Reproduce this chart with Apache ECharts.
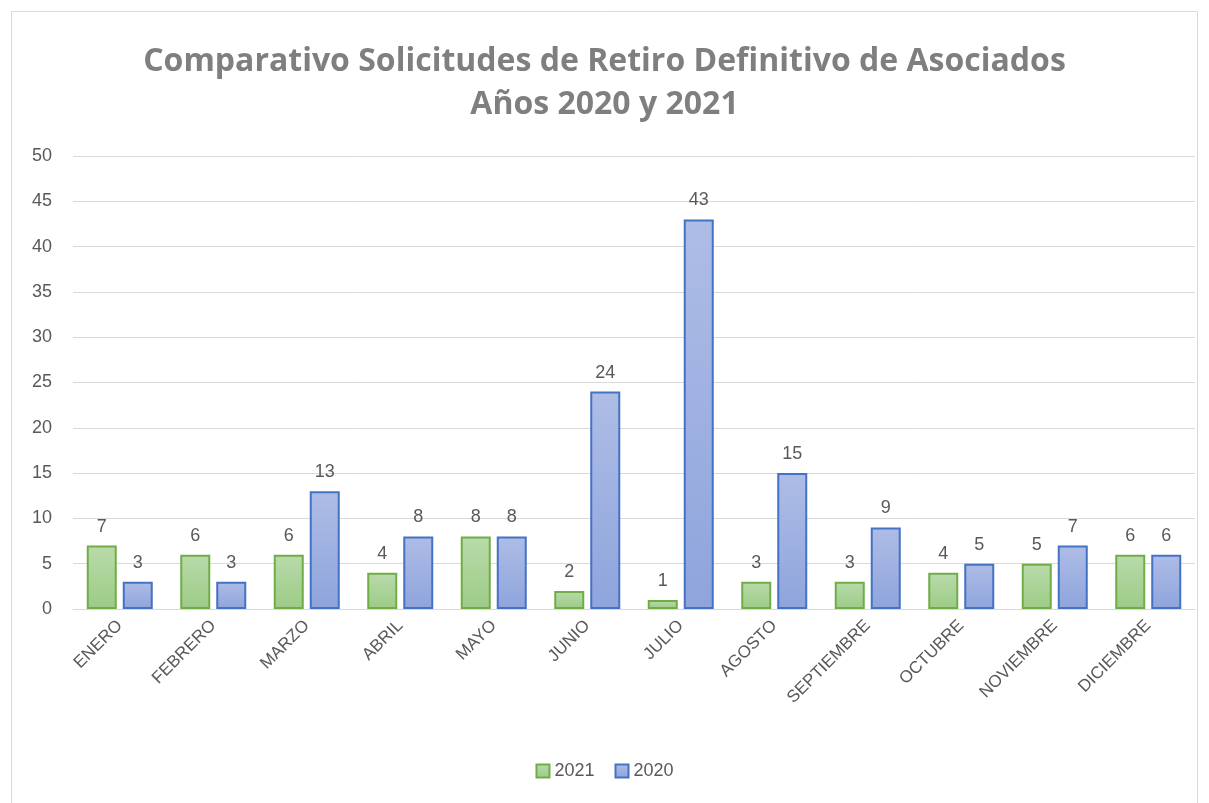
<!DOCTYPE html>
<html><head><meta charset="utf-8">
<script src="https://cdn.jsdelivr.net/npm/echarts@6/dist/echarts.min.js"></script>
<style>html,body{margin:0;padding:0;background:#fff}#c{width:1209px;height:803px}</style>
</head><body><div id="c"></div>
<script>
const categories = ['ENERO','FEBRERO','MARZO','ABRIL','MAYO','JUNIO','JULIO','AGOSTO','SEPTIEMBRE','OCTUBRE','NOVIEMBRE','DICIEMBRE'];
const values2021 = [7,6,6,4,8,2,1,3,3,4,5,6];
const values2020 = [3,3,13,8,8,24,43,15,9,5,7,6];
const yTicks = {min:0, max:50, interval:5};
const titleLines = ['Comparativo Solicitudes de Retiro Definitivo de Asociados', 'Años 2020 y 2021'];

const chart = echarts.init(document.getElementById('c'));
const grad = (t,b) => new echarts.graphic.LinearGradient(0,0,0,1,[{offset:0,color:t},{offset:1,color:b}]);
const lbl = {show:true, position:'top', distance:10, color:'#595959', fontSize:18, fontFamily:'Liberation Sans'};
const tStyle = {color:'#7f7f7f', fontSize:32, fontWeight:'bold', fontFamily:'Open Sans'};
chart.setOption({
  animation:false,
  textStyle:{fontFamily:'Liberation Sans'},
  graphic:[{type:'rect', shape:{x:11.5,y:11.5,width:1186,height:792}, style:{fill:'none', stroke:'#d9d9d9', lineWidth:1}}],
  title:[
    {text:titleLines[0], left:'center', top:41, textStyle:tStyle},
    {text:titleLines[1], left:'center', top:84, textStyle:tStyle}
  ],
  grid:{left:73, right:14, top:156, bottom:194},
  legend:{bottom:18, left:'center', icon:'rect', itemWidth:13, itemHeight:13, itemGap:20, textStyle:{color:'#595959', fontSize:18},
    data:['2021','2020']},
  xAxis:{type:'category', data:categories, axisTick:{show:false}, axisLine:{lineStyle:{color:'#d9d9d9'}},
    axisLabel:{rotate:45, color:'#595959', fontSize:17, margin:14, interval:0}},
  yAxis:{type:'value', min:yTicks.min, max:yTicks.max, interval:yTicks.interval,
    axisLabel:{color:'#595959', fontSize:18, margin:21}, splitLine:{lineStyle:{color:'#d9d9d9'}}},
  series:[
    {name:'2021', type:'bar', data:values2021, barWidth:30, barGap:'20%', label:lbl,
      itemStyle:{color:grad('#b9dbab','#9ccb86'), borderColor:'#70ad47', borderWidth:2}},
    {name:'2020', type:'bar', data:values2020, barWidth:30, label:lbl,
      itemStyle:{color:grad('#aebde6','#8ea4dc'), borderColor:'#4472c4', borderWidth:2}}
  ]
});
</script></body></html>
